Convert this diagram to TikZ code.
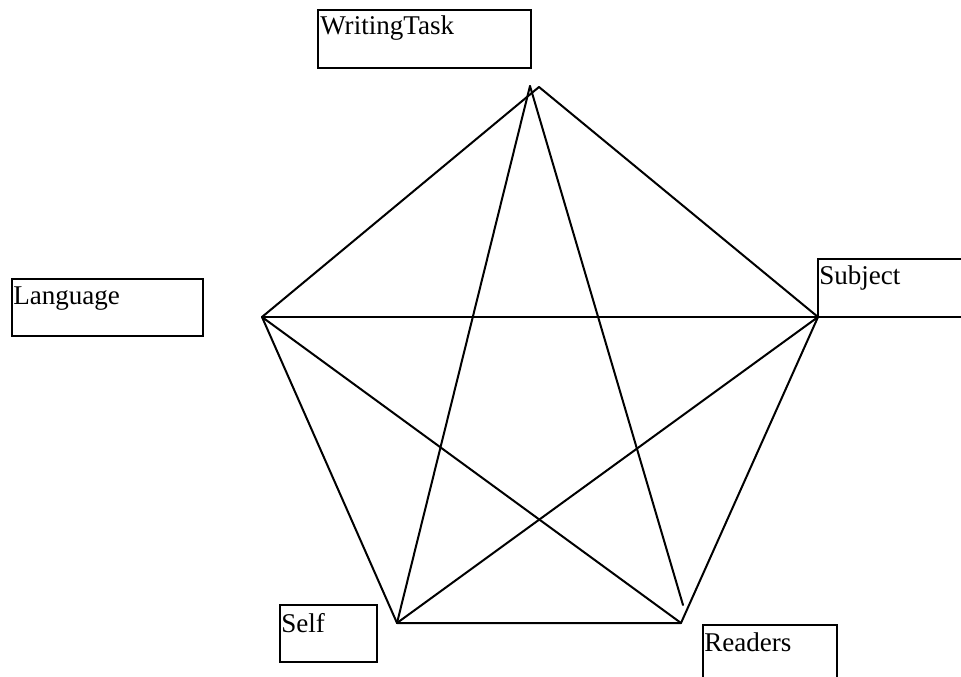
\documentclass[tikz,border=0pt]{standalone}
\usepackage{fontspec}
\setmainfont{Liberation Serif}
\begin{document}
\begin{tikzpicture}[x=0.75pt,y=-0.75pt,
  edge/.style={line width=1.5pt, line cap=round, line join=round},
  boxnode/.style={draw, line width=1.5pt, anchor=north west, inner sep=0pt, outer sep=0pt},
  lbl/.style={anchor=base west, inner sep=0pt, font=\fontsize{20.3}{24}\selectfont}]
\useasboundingbox (0,0) rectangle (961,677);
\clip (0,0) rectangle (961,677);
% boxes
\node[boxnode, minimum width=159.75pt, minimum height=43.5pt] (wt) at (318,10) {};
\node[lbl] (wtl) at (320,35) {WritingTask};
\node[boxnode, minimum width=143.25pt, minimum height=42.75pt] (lang) at (12,279) {};
\node[lbl] (langl) at (13,305) {Language};
\node[boxnode, minimum width=150pt, minimum height=43.5pt] (subj) at (818,259) {};
\node[lbl] (subjl) at (819,285) {Subject};
\node[boxnode, minimum width=72.75pt, minimum height=42.75pt] (self) at (280,605) {};
\node[lbl] (selfl) at (281,632) {Self};
\node[boxnode, minimum width=100.5pt, minimum height=60pt] (read) at (703,625) {};
\node[lbl] (readl) at (704,651) {Readers};
% vertices
\coordinate (L) at (262,317);
\coordinate (A) at (539,87);
\coordinate (A2) at (530,86);
\coordinate (S) at (818,317);
\coordinate (R) at (681,623);
\coordinate (R2) at (683,605);
\coordinate (F) at (397,623);
% pentagon
\draw[edge] (L) -- (A) -- (S) -- (R) -- (F) -- cycle;
% star
\draw[edge] (L) -- (S);
\draw[edge] (L) -- (R);
\draw[edge] (F) -- (S);
\draw[edge] (A2) -- (F);
\draw[edge] (A2) -- (R2);
\end{tikzpicture}
\end{document}
